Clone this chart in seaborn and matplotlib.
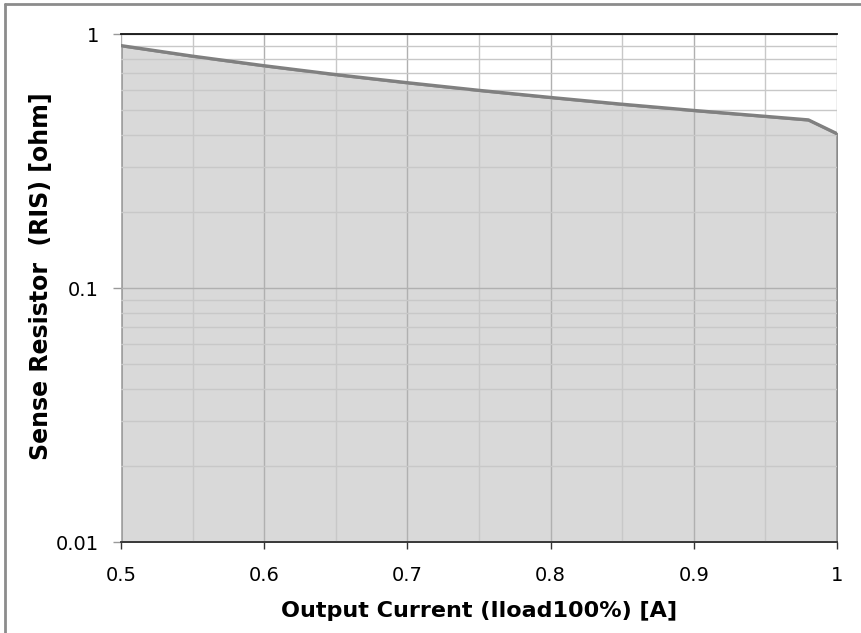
import matplotlib
matplotlib.use("Agg")
import matplotlib.pyplot as plt
import seaborn as sns
import pandas as pd
from matplotlib.ticker import FixedLocator, NullFormatter, LogLocator
from matplotlib.lines import Line2D

# Data
current = [0.50, 0.55, 0.60, 0.65, 0.70, 0.75, 0.80, 0.85, 0.90, 0.95, 0.98, 1.00]
resistance = [0.90, 0.818, 0.75, 0.692, 0.643, 0.60, 0.5625, 0.529, 0.50, 0.474, 0.459, 0.405]
x_ticks = [0.5, 0.6, 0.7, 0.8, 0.9, 1.0]
x_tick_labels = ["0.5", "0.6", "0.7", "0.8", "0.9", "1"]
y_ticks = [0.01, 0.1, 1]
y_tick_labels = ["0.01", "0.1", "1"]

df = pd.DataFrame({"current": current, "resistance": resistance})

sns.set_style("white")
plt.rcParams["font.family"] = ["DejaVu Sans"]
plt.rcParams["text.color"] = "black"
plt.rcParams["axes.labelcolor"] = "black"
plt.rcParams["xtick.color"] = "black"
plt.rcParams["ytick.color"] = "black"

fig = plt.figure(figsize=(8.61, 6.33), dpi=100)
ax = fig.add_axes([121 / 861, 1 - 542 / 633, (837 - 121) / 861, (542 - 34) / 633])

ax.set_yscale("log")
ax.set_xlim(0.5, 1.0)
ax.set_ylim(0.01, 1)

# area fill
ax.fill_between(df["current"], 0.01, df["resistance"], facecolor="#d9d9d9",
                edgecolor="#8a8a8a", linewidth=1.8, zorder=1)
sns.lineplot(data=df, x="current", y="resistance", ax=ax, color="#808080",
             linewidth=2.4, zorder=4, estimator=None, sort=False)

# grid
ax.xaxis.set_major_locator(FixedLocator(x_ticks))
ax.xaxis.set_minor_locator(FixedLocator([0.55, 0.65, 0.75, 0.85, 0.95]))
ax.yaxis.set_major_locator(FixedLocator(y_ticks))
ax.yaxis.set_minor_locator(LogLocator(base=10, subs=range(2, 10)))
ax.yaxis.set_minor_formatter(NullFormatter())
ax.set_axisbelow(False)
ax.grid(which="major", axis="both", color="#b0b0b0", linewidth=1.0, zorder=2)
ax.grid(which="minor", axis="both", color="#c8c8c8", linewidth=1.0, zorder=2)

ax.set_xticklabels(x_tick_labels)
ax.set_yticklabels(y_tick_labels)
ax.tick_params(axis="x", which="major", length=5, width=1, color="#333333",
               labelsize=14, pad=12, direction="out", bottom=True,
               labelcolor="black")
ax.tick_params(axis="y", which="major", length=6, width=1, color="#999999",
               labelsize=14, pad=10, direction="out", left=True,
               labelcolor="black")
ax.tick_params(which="minor", length=0)

for side in ["left", "right"]:
    ax.spines[side].set_visible(False)
ax.spines["top"].set_color("#111111")
ax.spines["top"].set_linewidth(1.3)
ax.spines["top"].set_zorder(5)
ax.spines["bottom"].set_color("#333333")
ax.spines["bottom"].set_linewidth(1.3)
ax.spines["bottom"].set_zorder(5)

ax.set_xlabel("Output Current (Iload100%) [A]", fontsize=16, fontweight="bold",
              color="black", labelpad=12)
ax.set_ylabel("Sense Resistor  (RIS) [ohm]", fontsize=17, fontweight="bold",
              color="black")
ax.yaxis.set_label_coords(-0.095, 0.524)

# outer frame lines (top and left)
fig.add_artist(Line2D([5 / 861, 1], [1 - 4 / 633, 1 - 4 / 633],
                      transform=fig.transFigure, color="#8c8c8c", linewidth=2))
fig.add_artist(Line2D([5 / 861, 5 / 861], [0, 1 - 4 / 633],
                      transform=fig.transFigure, color="#8c8c8c", linewidth=2))

fig.savefig("out.png", dpi=100)
